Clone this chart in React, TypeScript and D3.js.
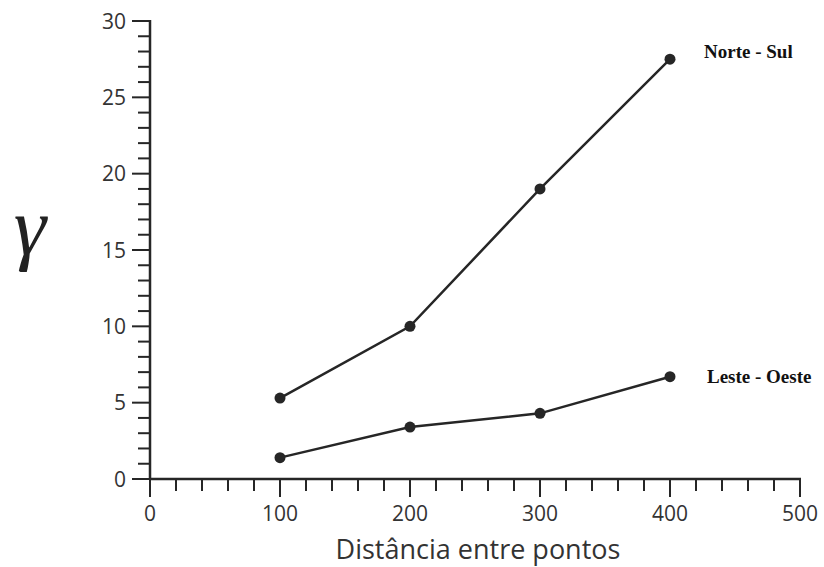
import React from 'react';
import * as d3 from 'd3';

const distances = [100, 200, 300, 400];
const norteSul = [5.3, 10.0, 19.0, 27.5];
const lesteOeste = [1.4, 3.4, 4.3, 6.7];
const xTicks = [0, 100, 200, 300, 400, 500];
const yTicks = [0, 5, 10, 15, 20, 25, 30];

const W = 824;
const H = 567;

export default function App() {
  const x = d3.scaleLinear().domain([0, 500]).range([150, 800]);
  const y = d3.scaleLinear().domain([0, 30]).range([479, 21]);
  const line = d3.line<number>()
    .x((d, i) => x(distances[i]))
    .y(d => y(d));

  const ink = "#262626";
  const xMinor = d3.range(0, 501, 20);
  const yMinor = d3.range(0, 31, 1);

  const series = [
    { name: "Norte - Sul", values: norteSul, dx: 34, dy: -1 },
    { name: "Leste - Oeste", values: lesteOeste, dx: 37, dy: 6 }
  ];

  return (
    <svg width={W} height={H} style={{position: "absolute", left: 0, top: 0, background: "#fff"}}>
      {/* y axis */}
      <line x1={x(0)} x2={x(0)} y1={y(30) - 1} y2={y(0)} stroke={ink} strokeWidth={2.5} />
      {yMinor.map(v => {
        const major = v % 5 === 0;
        return <line key={"ym" + v} x1={x(0) - (major ? 18 : 12)} x2={x(0)} y1={y(v)} y2={y(v)} stroke={ink} strokeWidth={2} />;
      })}
      {yTicks.map(v => (
        <text key={"yt" + v} x={x(0) - 24} y={y(v)} dy="0.36em" textAnchor="end"
          fontFamily="Open Sans" fontSize={21} fill="#333">{v}</text>
      ))}

      {/* x axis */}
      <line x1={x(0)} x2={x(500) + 1} y1={y(0)} y2={y(0)} stroke={ink} strokeWidth={2.5} />
      {xMinor.map(v => {
        const major = v % 100 === 0;
        return <line key={"xm" + v} x1={x(v)} x2={x(v)} y1={y(0)} y2={y(0) + (major ? 18 : 12)} stroke={ink} strokeWidth={2} />;
      })}
      {xTicks.map(v => (
        <text key={"xt" + v} x={x(v)} y={y(0) + 42} textAnchor="middle"
          fontFamily="Open Sans" fontSize={21} fill="#333">{v}</text>
      ))}

      <text x={478} y={559} textAnchor="middle" fontFamily="Open Sans" fontSize={27} fill="#333">Distância entre pontos</text>
      <text x={30} y={254} textAnchor="middle" fontFamily="Liberation Serif" fontStyle="italic" fontSize={82} fill="#222">γ</text>

      {series.map(s => (
        <g key={s.name}>
          <path d={line(s.values) || ""} fill="none" stroke={ink} strokeWidth={2.5} />
          {s.values.map((v, i) => (
            <circle key={i} cx={x(distances[i])} cy={y(v)} r={5.5} fill={ink} />
          ))}
          <text x={x(400) + s.dx} y={y(s.values[3]) + s.dy} fontFamily="Liberation Serif" fontWeight="bold"
            fontSize={19} fill="#111">{s.name}</text>
        </g>
      ))}
    </svg>
  );
}
